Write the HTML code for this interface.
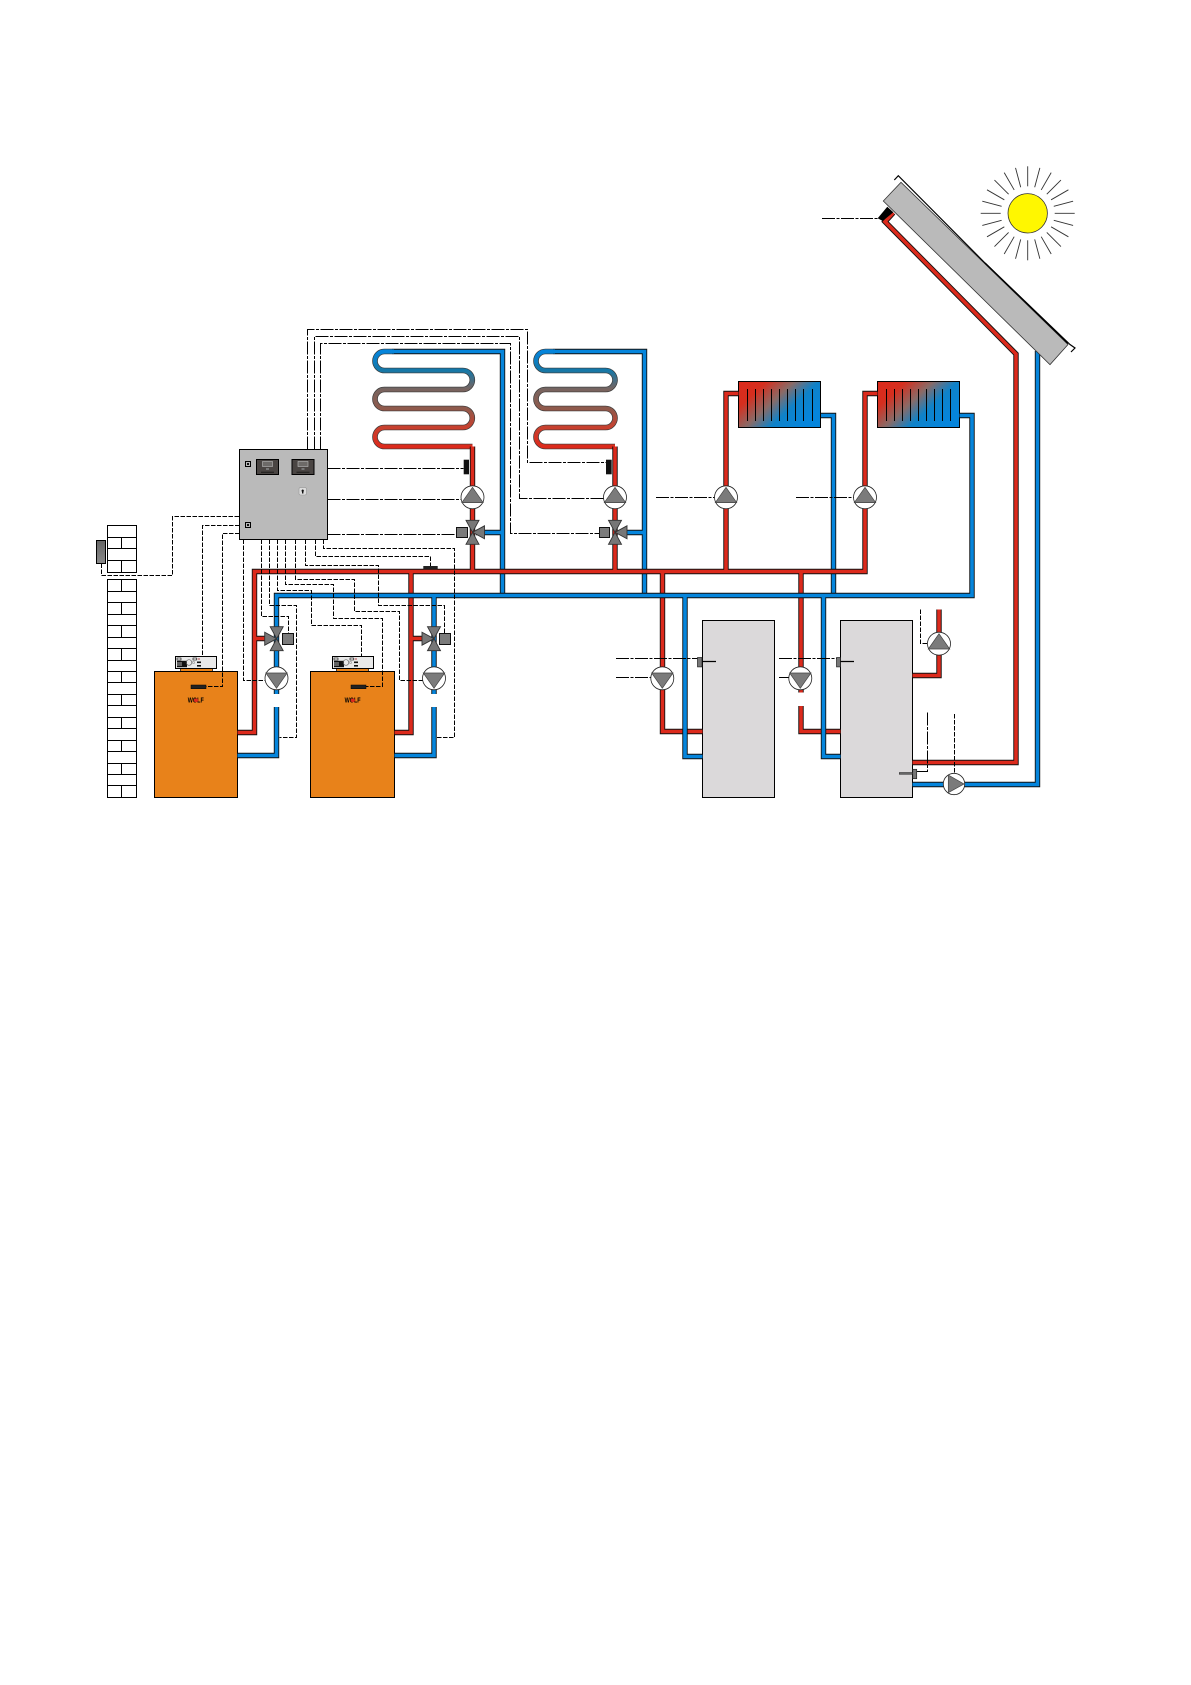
<!DOCTYPE html>
<html><head><meta charset="utf-8"><title>Heating system schematic</title>
<style>html,body{margin:0;padding:0;background:#fff}svg{display:block}
.o{fill:none;stroke:#111;stroke-width:5.4}
.r{fill:none;stroke:#dc2a1c;stroke-width:3.6}
.b{fill:none;stroke:#0585dc;stroke-width:3.6}
.d{fill:none;stroke:#000;stroke-width:1;stroke-dasharray:4.5 1.5}
.l{fill:none;stroke:#000;stroke-width:1;stroke-dasharray:13 1.5 3 1.5}
.k{fill:none;stroke:#000;stroke-width:1}
.c{fill:none;stroke:#3a3a3a;stroke-width:5.6}
</style></head><body>
<svg xmlns="http://www.w3.org/2000/svg" width="1191" height="1685" viewBox="0 0 1191 1685">
<defs>
<linearGradient id="coil" gradientUnits="userSpaceOnUse" x1="0" y1="447" x2="0" y2="351">
<stop offset="0" stop-color="#dc2a1c"/><stop offset=".2" stop-color="#c9402e"/><stop offset=".4" stop-color="#8f5a4c"/><stop offset=".6" stop-color="#78645f"/><stop offset=".8" stop-color="#1478a8"/><stop offset="1" stop-color="#0585dc"/>
</linearGradient>
<linearGradient id="rad" x1="0" y1="0" x2="1" y2="0.6">
<stop offset="0" stop-color="#dc2a1c"/><stop offset=".25" stop-color="#d62e1e"/><stop offset=".5" stop-color="#8a6a66"/><stop offset=".72" stop-color="#0f82c8"/><stop offset="1" stop-color="#0585dc"/>
</linearGradient>
<linearGradient id="sg" x1="0" y1="0" x2="0" y2="1"><stop offset="0" stop-color="#666"/><stop offset="1" stop-color="#8a8a8a"/></linearGradient>
<g id="pu"><circle r="11.5" fill="#fff" stroke="#222" stroke-width=".8"/><path d="M0-10L10.7 5.3H-10.7Z" fill="#7b7b7b" stroke="#444" stroke-width=".7"/></g>
<g id="pd"><circle r="11.5" fill="#fff" stroke="#222" stroke-width=".8"/><path d="M0 10L10.7-5.3H-10.7Z" fill="#7b7b7b" stroke="#444" stroke-width=".7"/></g>
<g id="ml"><path d="M0 0L-6.5-12H6.5ZM0 0L-6.5 12H6.5ZM0 0L12-6.5V6.5Z" fill="#777" stroke="#333" stroke-width=".9"/></g>
<g id="mr"><path d="M0 0L-6.5-12H6.5ZM0 0L-6.5 12H6.5ZM0 0L-12-6.5V6.5Z" fill="#777" stroke="#333" stroke-width=".9"/></g>
<g id="ctl"><rect x=".5" y=".5" width="41" height="12" fill="#e9e9e9" stroke="#000" stroke-width="1"/>
<rect x="2" y="2" width="4" height="2" fill="#fff" stroke="#000" stroke-width=".6"/>
<rect x="2" y="4.8" width="10" height="6.4" fill="#111"/><path d="M2 7h5M2 9h5" stroke="#e9e9e9" stroke-width=".7"/><circle cx="14" cy="6.5" r="2.8" fill="none" stroke="#666" stroke-width=".7"/>
<rect x="18" y="2" width="3.5" height="2" fill="#fff" stroke="#000" stroke-width=".6"/><rect x="22.5" y="2.4" width="2.5" height="1.2" fill="#b66"/>
<rect x="22" y="5.5" width="4" height="1.6" fill="#111"/><rect x="22" y="9" width="4" height="1.6" fill="#111"/><circle cx="18.5" cy="6.5" r="1.2" fill="none" stroke="#777" stroke-width=".5"/></g>
<g id="disp"><rect x=".5" y=".5" width="22" height="15" fill="#4a4543" stroke="#000" stroke-width="1"/><rect x="6.5" y="2.5" width="10" height="5" fill="#6d6a68" stroke="#bbb" stroke-width=".6"/><rect x="10" y="9" width="3" height="2" fill="#777"/><rect x="5" y="12.8" width="13" height=".8" fill="#111"/></g>
</defs>

<!-- Wall -->
<g fill="#fff" stroke="#000" stroke-width="1">
<rect x="107.5" y="525.5" width="29" height="47"/>
<rect x="107.5" y="579.5" width="29" height="218"/>
</g>
<path class="k" d="M107.5 537.5H136.5M107.5 548.5H136.5M107.5 560.5H136.5M121.5 537.5V548.5M121.5 560.5V572.5
M107.5 591.5H136.5M107.5 602.5H136.5M107.5 614.5H136.5M107.5 625.5H136.5M107.5 637.5H136.5M107.5 648.5H136.5M107.5 660.5H136.5M107.5 671.5H136.5M107.5 682.5H136.5M107.5 694.5H136.5M107.5 705.5H136.5M107.5 717.5H136.5M107.5 728.5H136.5M107.5 740.5H136.5M107.5 751.5H136.5M107.5 763.5H136.5M107.5 774.5H136.5M107.5 785.5H136.5
M121.5 579.5V591.5M121.5 602.5V614.5M121.5 625.5V637.5M121.5 648.5V660.5M121.5 671.5V682.5M121.5 694.5V705.5M121.5 717.5V728.5M121.5 740.5V751.5M121.5 763.5V774.5M121.5 785.5V797.5"/>
<rect x="96.5" y="540.5" width="9" height="23" fill="url(#sg)" stroke="#000" stroke-width="1"/>

<!-- Boilers -->
<rect x="180.5" y="668" width="32" height="3.5" fill="#e8821a" stroke="#000" stroke-width=".7"/>
<rect x="336.5" y="668" width="32" height="3.5" fill="#e8821a" stroke="#000" stroke-width=".7"/>
<rect x="154.5" y="671.5" width="83" height="126" fill="#e8821a" stroke="#000" stroke-width="1"/>
<rect x="310.5" y="671.5" width="84" height="126" fill="#e8821a" stroke="#000" stroke-width="1"/>
<use href="#ctl" x="175" y="656"/><use href="#ctl" x="332" y="656"/>
<rect x="191" y="685" width="15" height="3.7" fill="#222" stroke="#000" stroke-width=".5"/>
<rect x="351" y="685" width="15" height="3.7" fill="#222" stroke="#000" stroke-width=".5"/>
<text x="187.8" y="702.6" font-family="'Liberation Sans',sans-serif" font-size="7" font-weight="bold" textLength="16" lengthAdjust="spacingAndGlyphs" fill="#000">WOLF</text>
<ellipse cx="196" cy="700.3" rx="2.2" ry="1.8" fill="#dc2a1c"/>
<text x="344.6" y="702.6" font-family="'Liberation Sans',sans-serif" font-size="7" font-weight="bold" textLength="16" lengthAdjust="spacingAndGlyphs" fill="#000">WOLF</text>
<ellipse cx="352.8" cy="700.3" rx="2.2" ry="1.8" fill="#dc2a1c"/>

<!-- Tanks -->
<rect x="702.5" y="620.5" width="72" height="177" fill="#dbd9da" stroke="#000" stroke-width="1"/>
<rect x="840.5" y="620.5" width="72" height="177" fill="#dbd9da" stroke="#000" stroke-width="1"/>

<!-- Blue risers under red main -->
<path class="o" d="M392 351.5H502.5V595.5M476 532.5H502.5M553 351.5H644.5V595.5M620 532.5H644.5M820.5 415.5H833.5V595.5"/>
<path class="b" d="M392 351.5H502.5V595.5M476 532.5H502.5M553 351.5H644.5V595.5M620 532.5H644.5M820.5 415.5H833.5V595.5"/>

<!-- Coils -->
<path class="c" d="M472.5 446.5H384.5A9.5 9.5 0 0 1 384.5 427.5H462.8A9.5 9.5 0 0 0 462.8 408.5H384.5A9.5 9.5 0 0 1 384.5 389.5H462.8A9.5 9.5 0 0 0 462.8 370.5H384.5A9.5 9.5 0 0 1 384.5 351.5H392"/>
<path d="M472.5 446.5H384.5A9.5 9.5 0 0 1 384.5 427.5H462.8A9.5 9.5 0 0 0 462.8 408.5H384.5A9.5 9.5 0 0 1 384.5 389.5H462.8A9.5 9.5 0 0 0 462.8 370.5H384.5A9.5 9.5 0 0 1 384.5 351.5H394" fill="none" stroke="url(#coil)" stroke-width="4.2"/>
<path class="c" d="M615 446.5H545.5A9.5 9.5 0 0 1 545.5 427.5H605.5A9.5 9.5 0 0 0 605.5 408.5H545.5A9.5 9.5 0 0 1 545.5 389.5H605.5A9.5 9.5 0 0 0 605.5 370.5H545.5A9.5 9.5 0 0 1 545.5 351.5H553"/>
<path d="M615 446.5H545.5A9.5 9.5 0 0 1 545.5 427.5H605.5A9.5 9.5 0 0 0 605.5 408.5H545.5A9.5 9.5 0 0 1 545.5 389.5H605.5A9.5 9.5 0 0 0 605.5 370.5H545.5A9.5 9.5 0 0 1 545.5 351.5H555" fill="none" stroke="url(#coil)" stroke-width="4.2"/>

<!-- Radiators -->
<rect x="738.5" y="381.5" width="82" height="46" fill="url(#rad)" stroke="#000" stroke-width="1"/>
<rect x="877.5" y="381.5" width="82" height="46" fill="url(#rad)" stroke="#000" stroke-width="1"/>
<path class="k" d="M747.5 389V421M755.5 389V421M763.5 389V421M771.5 389V421M779.5 389V421M787.5 389V421M795.5 389V421M803.5 389V421M812.5 389V421M886.5 389V421M894.5 389V421M902.5 389V421M910.5 389V421M918.5 389V421M926.5 389V421M934.5 389V421M942.5 389V421M950.5 389V421"/>

<!-- Red network -->
<path class="o" d="M237.5 732.5H254.5V571.5H865V393.5H877.5M254.5 638.5H266M394.5 732.5H411V571.5M411 638.5H423M472.5 571.5V446.5M615 571.5V446.5M726 571.5V393.5H738.5M662.5 571.5V731.5H702.5M801 571.5V692.5M801 706V731.5H840.5M939 609.5V675.5H912.5M912.5 762.5H1016V354L885 221.7L893.3 212.7"/>
<path class="r" d="M237.5 732.5H254.5V571.5H865V393.5H877.5M254.5 638.5H266M394.5 732.5H411V571.5M411 638.5H423M472.5 571.5V446.5M615 571.5V446.5M726 571.5V393.5H738.5M662.5 571.5V731.5H702.5M801 571.5V692.5M801 706V731.5H840.5M939 609.5V675.5H912.5M912.5 762.5H1016V354L885 221.7L893.3 212.7"/>

<!-- Blue main network -->
<path class="o" d="M237.5 755.5H276.5V707M276.5 694V595.5H972V415.5H959.5M394.5 755.5H434V707M434 694V595.5M685 595.5V756.5H702.5M823.5 595.5V756.5H840.5M912.5 784.5H1037.5V351"/>
<path class="b" d="M237.5 755.5H276.5V707M276.5 694V595.5H972V415.5H959.5M394.5 755.5H434V707M434 694V595.5M685 595.5V756.5H702.5M823.5 595.5V756.5H840.5M912.5 784.5H1037.5V351"/>

<!-- Control cables -->
<path class="d" d="M101.5 563.5V575.5H172.5V516.5H239.5"/>
<path class="d" d="M239.5 525.5H202.5V656.5"/>
<path class="d" d="M239.5 533.5H222.5V686.5H206"/>
<path class="d" d="M243.5 539.5V680.5H265"/>
<path class="d" d="M261.5 539.5V616.5H288.5V633.5"/>
<path class="d" d="M269.5 539.5V605.5H296.5V737.5H279.5"/>
<path class="d" d="M277.5 539.5V590.5H311.5V625.5H361.5V656.5"/>
<path class="d" d="M285.5 539.5V584.5H333.5V618.5H382.5V686.5H366"/>
<path class="d" d="M295.5 539.5V579.5H354.5V611.5H399.5V680.5H422.5"/>
<path class="d" d="M305.5 539.5V565.5H378.5V605.5H444.5V633.5"/>
<path class="d" d="M315.5 539.5V556.5H430.5V566"/>
<path class="d" d="M323.5 539.5V548.5H454.5V737.5H436.5"/>
<path class="l" d="M327.5 468.5H463.5"/>
<path class="l" d="M327.5 499.5H461.5"/>
<path class="l" d="M327.5 534.5H456.5"/>
<path class="l" d="M307.5 449.5V329.5H527.5V462.5H606"/>
<path class="l" d="M314.5 449.5V336.5H519.5V498.5H603.5"/>
<path class="l" d="M320.5 449.5V343.5H510.5V533.5H599.5"/>
<path class="l" d="M656 497.5H715"/>
<path class="l" d="M796 497.5H854"/>
<path class="l" d="M616 658.5H697.5"/>
<path class="l" d="M616 677.5H650.5"/>
<path class="l" d="M779 658.5H836.5"/>
<path class="l" d="M779 677.5H788.5"/>
<path class="d" d="M920.5 609.5V643.5H927.5"/>
<path class="l" d="M927.5 712.5V771.5H916.5"/>
<path class="d" d="M954.5 714V773"/>
<path class="l" d="M822 218.5H877.7"/>

<!-- Control box -->
<rect x="239.5" y="449.5" width="88" height="90" fill="#bababa" stroke="#000" stroke-width="1"/>
<use href="#disp" x="256" y="459"/><use href="#disp" x="291.5" y="459"/>
<path d="M245.5 461.5h5v5h-5zM245.5 522.5h5v5h-5z" fill="#bababa" stroke="#000" stroke-width="1"/>
<path d="M247 463h2v2h-2zM247 524h2v2h-2z" fill="#111"/>
<rect x="299" y="487.6" width="7.4" height="7.4" rx="1.5" fill="#ddd" stroke="#999" stroke-width=".6"/>
<path d="M302.7 489.5a1.3 1.3 0 0 1 .7 2.3v1.7h-1.4v-1.7a1.3 1.3 0 0 1 .7-2.3z" fill="#111"/>

<!-- Pumps & mixers -->
<use href="#pu" x="472.5" y="497.3"/><use href="#pu" x="615" y="497.3"/>
<use href="#pu" x="726" y="497.3"/><use href="#pu" x="865" y="497.3"/>
<use href="#pu" x="939" y="643.7"/>
<use href="#pd" x="276.5" y="678.3"/><use href="#pd" x="434" y="678.3"/>
<use href="#pd" x="662.3" y="678.3"/><use href="#pd" x="800.3" y="678.3"/>
<circle cx="954" cy="784" r="10.7" fill="#fff" stroke="#222" stroke-width=".8"/>
<path d="M948.3 775L964 784L948.3 792.7Z" fill="#7b7b7b" stroke="#444" stroke-width=".7"/>

<use href="#ml" x="472.5" y="532.3"/><use href="#ml" x="615" y="532.3"/>
<use href="#mr" x="276.7" y="638.7"/><use href="#mr" x="434" y="638.7"/>
<g fill="#7b7b7b" stroke="#111" stroke-width="1">
<rect x="456.5" y="527.5" width="11" height="10"/>
<rect x="599.5" y="527.5" width="10" height="10"/>
<rect x="282.5" y="633.5" width="11" height="11"/>
<rect x="439.5" y="633.5" width="11" height="11"/>
</g>

<!-- Sensors -->
<rect x="463.7" y="459.7" width="5.3" height="14.6" fill="#111"/>
<rect x="606" y="459.7" width="5.7" height="14.6" fill="#111"/>
<rect x="423.3" y="566" width="14.4" height="3.3" fill="#222"/>
<rect x="697.5" y="657.5" width="4.5" height="9.4" fill="#777" stroke="#222" stroke-width=".7"/>
<rect x="836.5" y="657.5" width="4" height="9.4" fill="#777" stroke="#222" stroke-width=".7"/>
<path d="M702 661.5H716M840.3 661.5H854" stroke="#000" stroke-width="1.3" fill="none"/>
<rect x="899.3" y="772.5" width="13.4" height="1.8" fill="#666" stroke="#222" stroke-width=".5"/>
<rect x="912.7" y="769.3" width="4" height="9.4" fill="#777" stroke="#222" stroke-width=".7"/>

<!-- Solar collector -->
<path d="M877.7 218.3L887.3 206.7L893.3 212.3L882.7 221Z" fill="#000"/>
<path d="M883.3 201L901 182.3L1068 344.5L1050 364.7Z" fill="#bababa" stroke="#333" stroke-width=".8"/>
<path d="M894.3 180L898.3 175.7L985 263L1070 344.5L1075 348L1071 352" fill="none" stroke="#000" stroke-width="1.2"/>
<path d="M985 263L1068 343.5" stroke="#000" stroke-width="1.4" fill="none"/>

<!-- Sun -->
<g stroke="#333" stroke-width=".9" fill="none" transform="translate(1027.7 213.3)">
<path d="M0-27V-47"/>
<path d="M0-27V-47" transform="rotate(15)"/><path d="M0-27V-47" transform="rotate(30)"/><path d="M0-27V-47" transform="rotate(45)"/><path d="M0-27V-47" transform="rotate(60)"/><path d="M0-27V-47" transform="rotate(75)"/><path d="M0-27V-47" transform="rotate(90)"/><path d="M0-27V-47" transform="rotate(105)"/><path d="M0-27V-47" transform="rotate(120)"/><path d="M0-27V-47" transform="rotate(135)"/><path d="M0-27V-47" transform="rotate(150)"/><path d="M0-27V-47" transform="rotate(165)"/><path d="M0-27V-47" transform="rotate(180)"/><path d="M0-27V-47" transform="rotate(195)"/><path d="M0-27V-47" transform="rotate(210)"/><path d="M0-27V-47" transform="rotate(225)"/><path d="M0-27V-47" transform="rotate(240)"/><path d="M0-27V-47" transform="rotate(255)"/><path d="M0-27V-47" transform="rotate(270)"/><path d="M0-27V-47" transform="rotate(285)"/><path d="M0-27V-47" transform="rotate(300)"/><path d="M0-27V-47" transform="rotate(315)"/><path d="M0-27V-47" transform="rotate(330)"/><path d="M0-27V-47" transform="rotate(345)"/>
<circle r="19.7" fill="#fff700" stroke="#333" stroke-width=".8"/>
</g>
</svg>
</body></html>
